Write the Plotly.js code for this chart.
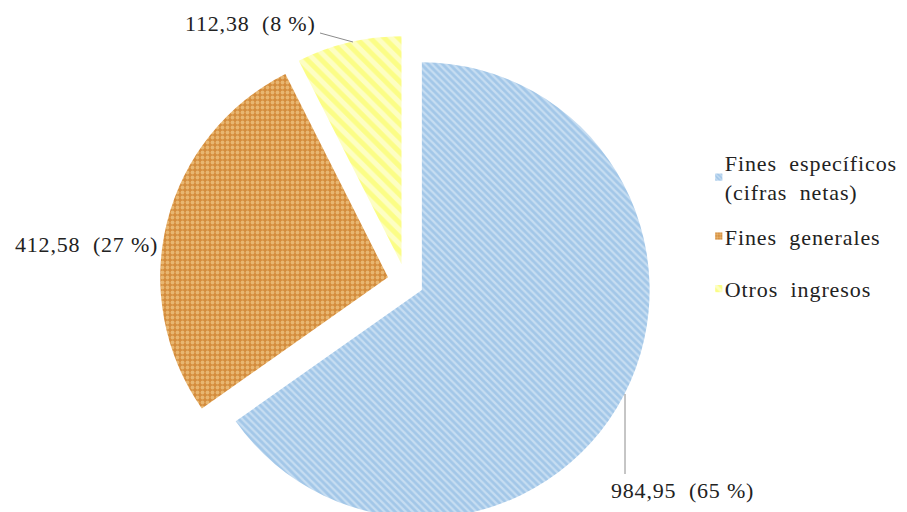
<!DOCTYPE html>
<html>
<head>
<meta charset="utf-8">
<script src="https://cdn.plot.ly/plotly-3.0.1.min.js"></script>
<style>
html,body{margin:0;padding:0;background:#fff;overflow:hidden;width:907px;height:512px;}
#chart{width:907px;height:540px;}
.legend text.legendtext{letter-spacing:0.9px;word-spacing:6px;}
.legend .scrollbox{clip-path:none !important;}
.annotation-text{letter-spacing:0.8px;}
.legendpoints path.legendpie{transform:translate(34px,0px) scale(0.6);}
</style>
</head>
<body>
<div id="chart"></div>
<script>
const categories = ["Fines específicos<br>(cifras netas)", "Fines generales", "Otros ingresos"];
const values = [984.95, 412.58, 112.38];
const valueLabels = ["984,95", "412,58", "112,38"];
const percentLabels = ["65", "27", "8"];

const NB = "\u00a0";
const sliceText = valueLabels.map((v, i) => v + NB + NB + "(" + percentLabels[i] + NB + "%)");

const W = 907, H = 540;
const px = x => x / W;
const py = y => 1 - y / H;

// label anchor positions (pixels) and leader lines
const labelPos = [[682, 490], [86, 244], [250, 24]];
const leaders = [null, null, null];
leaders[0] = [[625, 474], [625, 394]];
leaders[2] = [[320, 33], [353, 42]];
// extra vertical gap added before each legend entry (pixels)
const legendExtraGap = [0, 13, 34];

const trace = {
  type: "pie",
  labels: categories,
  values: values,
  textinfo: "none",
  hoverinfo: "label+value+percent",
  sort: false,
  direction: "clockwise",
  rotation: 0,
  pull: [0.08, 0.08, 0.08],
  marker: {
    colors: ["#a9cbea", "#d48c3c", "#ffff8c"],
    line: {width: 0},
    pattern: {
      shape: ["\\", ".", "\\"],
      fillmode: "overlay",
      bgcolor: ["#a3c7e8", "#d48c3c", "#fbfd86"],
      fgcolor: ["#eaf3fb", "#fbe0a4", "#ffffff"],
      size: [5, 5, 10],
      solidity: [0.45, 0.45, 0.5]
    }
  },
  domain: {x: [0.1761, 0.7185], y: [0.0228, 0.9339]}
};

const annotations = sliceText.map((t, i) => ({
  xref: "paper", yref: "paper",
  x: px(labelPos[i][0]), y: py(labelPos[i][1]),
  text: t, showarrow: false,
  xanchor: "center", yanchor: "middle",
  font: {family: "Liberation Serif", size: 22, color: "#222222"}
}));

const shapes = leaders.filter(l => l).map(l => ({
  type: "line", xref: "paper", yref: "paper",
  x0: px(l[0][0]), y0: py(l[0][1]), x1: px(l[1][0]), y1: py(l[1][1]),
  line: {color: "#8c8c8c", width: 1}
}));

const layout = {
  width: W,
  height: H,
  margin: {l: 0, r: 0, t: 0, b: 0},
  paper_bgcolor: "#ffffff",
  showlegend: true,
  legend: {
    x: 0.755, y: 0.737, xanchor: "left", yanchor: "top",
    font: {family: "Liberation Serif", size: 22, color: "#222222"},
    itemwidth: 30
  },
  annotations: annotations,
  shapes: shapes
};

Plotly.newPlot("chart", [trace], layout, {displayModeBar: false, staticPlot: true}).then(gd => {
  const items = gd.querySelectorAll(".legend .traces");
  items.forEach((el, i) => {
    const tr = el.getAttribute("transform") || "";
    const m = tr.match(/translate\(\s*([-\d.]+)[ ,]+([-\d.]+)\s*\)/);
    if (m) {
      const tx = parseFloat(m[1]), ty = parseFloat(m[2]) + (legendExtraGap[i] || 0);
      el.setAttribute("transform", "translate(" + tx + "," + ty + ")");
    }
  });
});
</script>
</body>
</html>
